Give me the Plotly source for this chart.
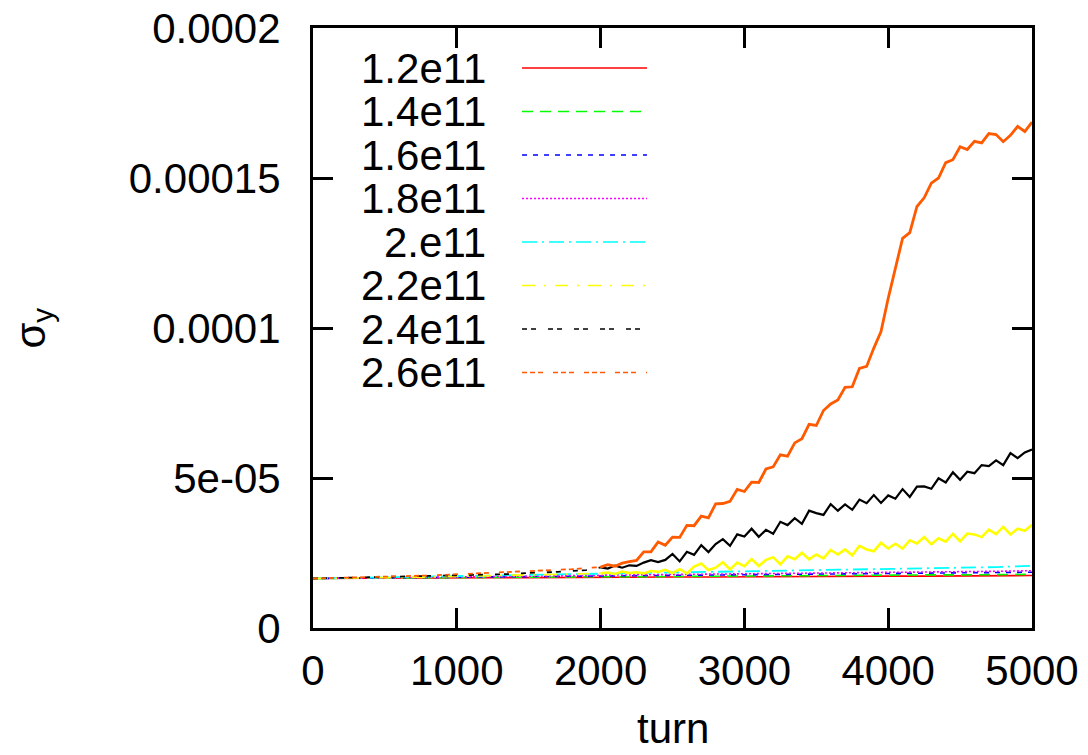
import plotly.graph_objects as go

# ---------------- data (sigma_y in units of 1e-5) ----------------
labels = ["1.2e11", "1.4e11", "1.6e11", "1.8e11", "2.e11", "2.2e11", "2.4e11", "2.6e11"]

turns_coarse = [0, 250, 500, 750, 1000, 1250, 1500, 1750, 2000, 2250, 2500,
                2750, 3000, 3250, 3500, 3750, 4000, 4250, 4500, 4750, 5000]
turns_fine = list(range(0, 2000, 100)) + list(range(2000, 5001, 50))

s_12 = [1.65, 1.66, 1.66, 1.67, 1.67, 1.68, 1.68, 1.69, 1.69, 1.70, 1.70,
        1.70, 1.71, 1.71, 1.72, 1.72, 1.73, 1.73, 1.74, 1.74, 1.75]
s_14 = [1.65, 1.66, 1.67, 1.67, 1.68, 1.69, 1.69, 1.70, 1.71, 1.71, 1.72,
        1.73, 1.73, 1.74, 1.75, 1.75, 1.76, 1.77, 1.77, 1.78, 1.79]
s_16 = [1.65, 1.66, 1.67, 1.68, 1.69, 1.70, 1.71, 1.72, 1.73, 1.74, 1.75,
        1.76, 1.76, 1.77, 1.78, 1.79, 1.80, 1.82, 1.83, 1.84, 1.86]
s_18 = [1.65, 1.66, 1.67, 1.69, 1.70, 1.71, 1.73, 1.74, 1.76, 1.77, 1.78,
        1.79, 1.80, 1.81, 1.82, 1.83, 1.84, 1.86, 1.87, 1.89, 1.91]
s_20 = [1.65, 1.67, 1.68, 1.70, 1.71, 1.73, 1.75, 1.77, 1.80, 1.82, 1.84,
        1.86, 1.88, 1.90, 1.92, 1.94, 1.96, 1.98, 2.00, 2.03, 2.07]

s_22 = [1.65, 1.66, 1.66, 1.67, 1.67, 1.68, 1.68, 1.69, 1.69, 1.70,
        1.72, 1.72, 1.73, 1.74, 1.74, 1.75, 1.76, 1.77, 1.78, 1.80,
        1.82, 1.85, 1.80, 1.88, 1.83, 1.86, 1.82, 1.90, 1.87, 1.94,
        1.83, 1.96, 1.82, 2.05, 2.15, 1.93, 2.01, 2.19, 1.95, 2.18,
        2.06, 2.30, 2.07, 2.27, 2.36, 2.12, 2.39, 2.29, 2.51, 2.29,
        2.45, 2.32, 2.60, 2.45, 2.62, 2.42, 2.74, 2.62, 2.56, 2.84,
        2.65, 2.81, 2.65, 2.92, 2.82, 3.03, 2.79, 2.99, 2.88, 3.14,
        2.89, 3.15, 3.12, 3.03, 3.28, 3.13, 3.37, 3.12, 3.31, 3.24,
        3.44]
s_24 = [1.65, 1.66, 1.67, 1.67, 1.68, 1.70, 1.70, 1.71, 1.72, 1.73,
        1.76, 1.76, 1.78, 1.79, 1.80, 1.84, 1.85, 1.87, 1.90, 1.93,
        2.02, 1.98, 2.08, 2.01, 2.09, 2.07, 2.18, 2.26, 2.20, 2.27,
        2.47, 2.22, 2.54, 2.44, 2.76, 2.53, 2.80, 2.96, 2.74, 3.12,
        3.05, 3.31, 3.04, 3.27, 3.14, 3.54, 3.43, 3.66, 3.47, 3.91,
        3.83, 3.77, 4.13, 3.91, 4.12, 3.94, 4.28, 4.16, 4.43, 4.17,
        4.42, 4.31, 4.63, 4.37, 4.71, 4.72, 4.64, 4.99, 4.85, 5.19,
        4.94, 5.21, 5.16, 5.43, 5.40, 5.59, 5.43, 5.83, 5.66, 5.85,
        5.95]
s_26 = [1.65, 1.66, 1.67, 1.68, 1.70, 1.71, 1.72, 1.74, 1.75, 1.77,
        1.79, 1.80, 1.82, 1.84, 1.86, 1.88, 1.90, 1.93, 1.96, 2.00,
        2.03, 2.11, 2.06, 2.16, 2.21, 2.25, 2.54, 2.54, 2.87, 2.76,
        3.03, 3.02, 3.42, 3.41, 3.73, 3.67, 4.14, 4.15, 4.22, 4.62,
        4.55, 4.86, 4.85, 5.30, 5.37, 5.77, 5.73, 6.17, 6.31, 6.79,
        6.75, 7.25, 7.47, 7.60, 8.02, 8.04, 8.65, 8.72, 9.33, 9.88,
        10.99, 12.00, 12.99, 13.18, 14.05, 14.34, 14.83, 15.00, 15.51, 15.61,
        16.04, 15.95, 16.22, 16.17, 16.48, 16.45, 16.21, 16.42, 16.72, 16.55,
        16.86]

series = [s_12, s_14, s_16, s_18, s_20, s_22, s_24, s_26]
series_turns = [turns_coarse] * 5 + [turns_fine] * 3
noisy = [False] * 5 + [True] * 3

y_tickvals = [0, 5e-5, 1e-4, 1.5e-4, 2e-4]
y_ticktext = ["0", "5e-05", "0.0001", "0.00015", "0.0002"]
x_tickvals = [0, 1000, 2000, 3000, 4000, 5000]

# ---------------- styles ----------------
colors = ["#ff0000", "#00ff00", "#0000ff", "#ff00ff", "#00ffff", "#ffff00", "#000000", "#ff5a00"]
dashes = ["solid", "11px,7px", "5px,6px", "2px,2px", "15px,5px,2px,5px",
          "13px,9px,2px,9px", "5px,4px,5px,12px", "5px,3px,5px,3px,5px,10px"]
widths = [1.6, 1.6, 1.6, 1.6, 1.8, 2.6, 2.2, 2.8]

FONT = "Liberation Sans, Arial, Helvetica, sans-serif"
FS = 42

fig = go.Figure()
for lab, t, s, c, d, w, nz in zip(labels, series_turns, series, colors, dashes, widths, noisy):
    y = [v * 1e-5 for v in s]
    if not nz:
        fig.add_trace(go.Scatter(x=t, y=y, mode="lines", name=lab,
                                 line=dict(color=c, dash=d, width=w), showlegend=False))
    else:
        k = t.index(2000)
        # quiet part: the dash pattern is visible
        fig.add_trace(go.Scatter(x=t[:k + 1], y=y[:k + 1], mode="lines", name=lab,
                                 line=dict(color=c, dash=d, width=1.8), showlegend=False))
        # noisy part: dense jitter makes the dashed line look like a solid band
        fig.add_trace(go.Scatter(x=t[k:], y=y[k:], mode="lines", name=lab,
                                 line=dict(color=c, width=w), showlegend=False))

# ---------------- gnuplot-style legend (text right-aligned, sample on right) ----------------
row_y0 = 0.9333
row_dy = 0.0725
for i, (lab, c, d) in enumerate(zip(labels, colors, dashes)):
    yy = row_y0 - i * row_dy
    fig.add_annotation(x=0.2434, y=yy, xref="paper", yref="paper", text=lab,
                       showarrow=False, xanchor="right", yanchor="middle",
                       font=dict(family=FONT, size=FS, color="black"))
    fig.add_shape(type="line", xref="paper", yref="paper",
                  x0=0.2907, x1=0.4645, y0=yy, y1=yy,
                  line=dict(color=c, dash=d, width=1.6))

# axis titles
fig.add_annotation(x=0.5, y=-0.168, xref="paper", yref="paper", text="turn",
                   showarrow=False, xanchor="center", yanchor="middle",
                   font=dict(family=FONT, size=FS, color="black"))
fig.add_annotation(x=-0.39, y=0.5, xref="paper", yref="paper", text="σ<sub>y</sub>",
                   showarrow=False, xanchor="center", yanchor="middle", textangle=-90,
                   font=dict(family=FONT, size=FS, color="black"))

axis_common = dict(showline=True, linecolor="black", linewidth=3, mirror="allticks",
                   ticks="inside", ticklen=20, tickwidth=3, tickcolor="black",
                   showgrid=False, zeroline=False, automargin=False,
                   ticklabeloverflow="allow",
                   tickfont=dict(family=FONT, size=FS, color="black"))

fig.update_xaxes(range=[0, 5000], tickvals=x_tickvals, ticklabelstandoff=4, **axis_common)
fig.update_yaxes(range=[0, 2e-4], tickvals=y_tickvals, ticktext=y_ticktext,
                 ticklabelstandoff=21, **axis_common)

# page body has an 8px margin: size and margins compensate so the plot lands where the reference has it
fig.update_layout(width=1080, height=747,
                  margin=dict(l=305, r=56, t=20, b=127, autoexpand=False),
                  plot_bgcolor="white", paper_bgcolor="white")

fig.write_html("out.html")
